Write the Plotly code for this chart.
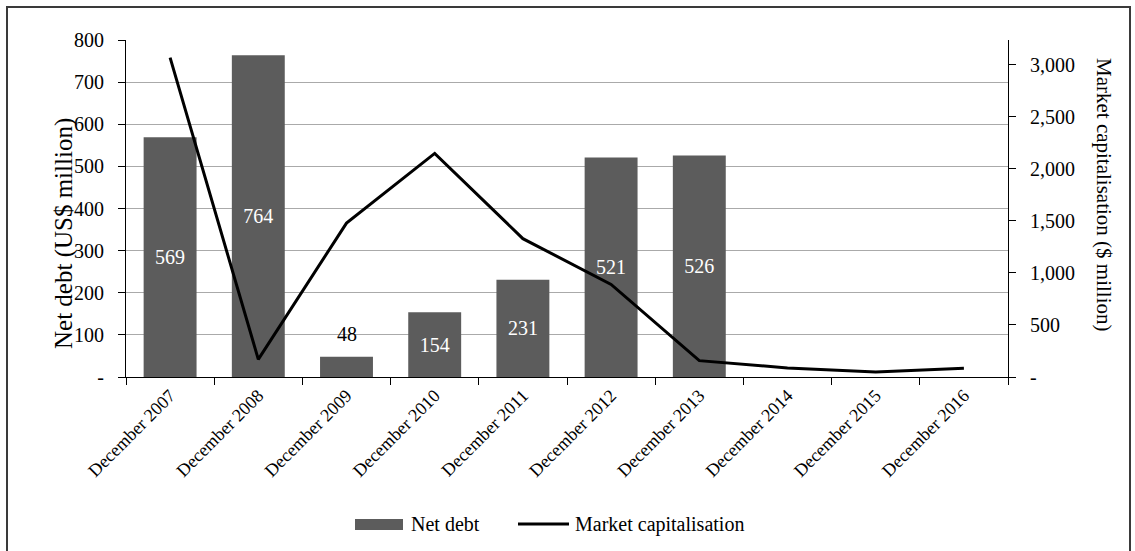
import plotly.graph_objects as go

# Chart data
categories = ["December 2007", "December 2008", "December 2009", "December 2010",
              "December 2011", "December 2012", "December 2013", "December 2014",
              "December 2015", "December 2016"]
net_debt = [569, 764, 48, 154, 231, 521, 526, None, None, None]          # US$ million
market_cap = [3070, 170, 1480, 2150, 1330, 890, 157, 87, 48, 84]         # $ million

left_ticks = [0, 100, 200, 300, 400, 500, 600, 700, 800]
left_ticktext = ["-", "100", "200", "300", "400", "500", "600", "700", "800"]
right_ticks = [0, 500, 1000, 1500, 2000, 2500, 3000]
right_ticktext = ["-", "500", "1,000", "1,500", "2,000", "2,500", "3,000"]

FONT = "Times New Roman, Liberation Serif, DejaVu Serif, serif"
BAR_COLOR = "#5c5c5c"

# Plot area in pixels (used to place the frame, titles and legend)
W, H = 1135, 551
L, R, T, B = 126, 127, 40, 174
PW, PH = W - L - R, H - T - B


def px_x(x):
    return (x - L) / PW


def px_y(y):
    return (H - B - y) / PH


# short bars get their label above the bar, the rest inside
inside_text = ["" if (v is None or v < 100) else str(v) for v in net_debt]

fig = go.Figure()
fig.add_trace(go.Bar(
    x=categories, y=net_debt, name="Net debt",
    marker=dict(color=BAR_COLOR, line=dict(width=0)),
    text=inside_text, textposition="inside", insidetextanchor="middle",
    insidetextfont=dict(family=FONT, size=20, color="white"),
    showlegend=False,
))
fig.add_trace(go.Scatter(
    x=categories, y=market_cap, name="Market capitalisation", yaxis="y2",
    mode="lines", line=dict(color="black", width=3), showlegend=False,
))

fig.update_layout(
    width=W, height=H,
    margin=dict(l=L, r=R, t=T, b=B),
    paper_bgcolor="white", plot_bgcolor="white",
    font=dict(family=FONT, size=20, color="black"),
    bargap=0.4,
    xaxis=dict(
        type="category", tickson="boundaries", ticks="outside", ticklen=7,
        tickcolor="black", showline=True, linecolor="black", linewidth=1,
        showgrid=False, tickangle=-45, tickfont=dict(family=FONT, size=18),
        range=[-0.5, len(categories) - 0.5],
    ),
    yaxis=dict(
        range=[0, 800], tickvals=left_ticks, ticktext=left_ticktext,
        ticks="outside", ticklen=7, tickcolor="black", showline=True,
        linecolor="black", linewidth=1, showgrid=True, gridcolor="#aaaaaa",
        gridwidth=1, zeroline=False, tickfont=dict(family=FONT, size=20),
        ticklabelstandoff=10,
    ),
    yaxis2=dict(
        range=[0, 3240], tickvals=right_ticks, ticktext=right_ticktext,
        overlaying="y", side="right", ticks="outside", ticklen=7,
        tickcolor="black", showline=True, linecolor="black", linewidth=1,
        showgrid=False, zeroline=False, tickfont=dict(family=FONT, size=20),
        ticklabelstandoff=10,
    ),
)

annotations = [
    dict(text="Net debt (US$ million)", x=px_x(64), y=px_y(234), xref="paper",
         yref="paper", textangle=-90, showarrow=False, xanchor="center",
         yanchor="middle", font=dict(family=FONT, size=25)),
    dict(text="Market capitalisation ($ million)", x=px_x(1104), y=px_y(195),
         xref="paper", yref="paper", textangle=90, showarrow=False,
         xanchor="center", yanchor="middle", font=dict(family=FONT, size=21)),
    # legend labels
    dict(text="Net debt", x=px_x(409), y=px_y(524), xref="paper", yref="paper",
         showarrow=False, xanchor="left", yanchor="middle",
         font=dict(family=FONT, size=20)),
    dict(text="Market capitalisation", x=px_x(573), y=px_y(524), xref="paper",
         yref="paper", showarrow=False, xanchor="left", yanchor="middle",
         font=dict(family=FONT, size=20)),
]

# value labels above the short bars
for cat, v in zip(categories, net_debt):
    if v is not None and v < 100:
        annotations.append(dict(
            text=str(v), x=cat, y=v, xref="x", yref="y", showarrow=False,
            xanchor="center", yanchor="bottom", yshift=10,
            font=dict(family=FONT, size=20, color="black")))

shapes = [
    # outer frame
    dict(type="rect", xref="paper", yref="paper", x0=px_x(7), x1=px_x(1130),
         y0=px_y(600), y1=px_y(7), line=dict(color="#3a3a3a", width=2),
         fillcolor="rgba(0,0,0,0)", layer="below"),
    # legend swatches
    dict(type="rect", xref="paper", yref="paper", x0=px_x(355), x1=px_x(403),
         y0=px_y(530), y1=px_y(519), line=dict(width=0), fillcolor=BAR_COLOR),
    dict(type="line", xref="paper", yref="paper", x0=px_x(518), x1=px_x(569),
         y0=px_y(524), y1=px_y(524), line=dict(color="black", width=3)),
]

fig.update_layout(annotations=annotations, shapes=shapes)

fig.write_html("out.html")
